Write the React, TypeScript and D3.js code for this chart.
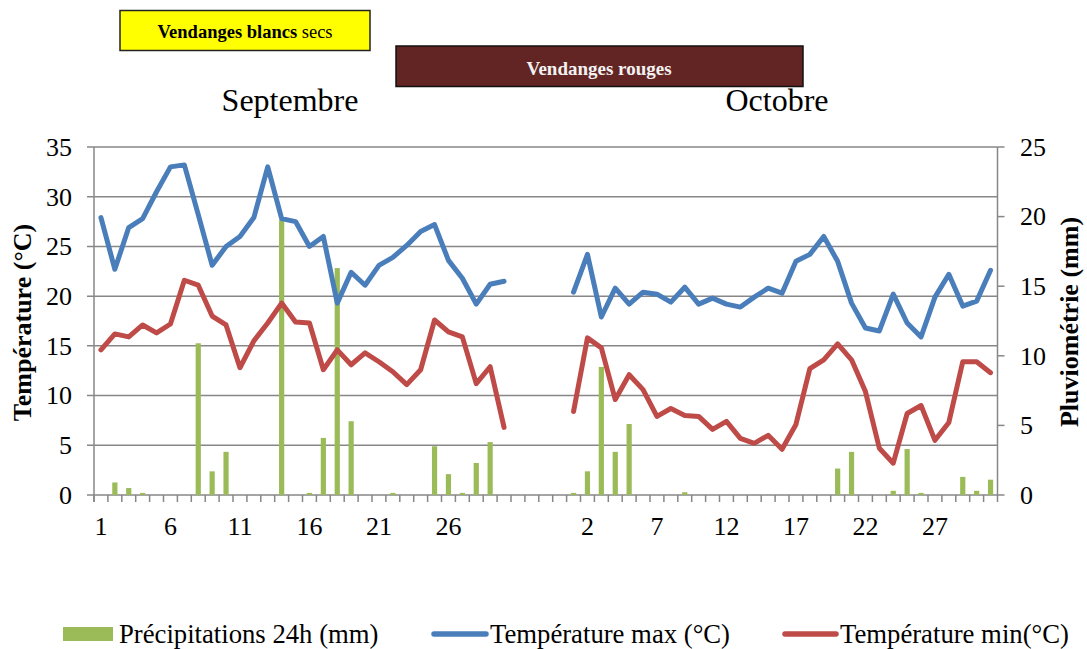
import React from "react";
import * as d3 from "d3";

// Categories: September 1..30, 4 empty slots, October 1..31
const septDays: string[] = d3.range(1, 31).map(String);
const gapSlots: string[] = ["", "", "", ""];
const octDays: string[] = d3.range(1, 32).map(String);

const septTmax: number[] = [27.9, 22.7, 26.9, 27.8, 30.5, 33.0, 33.2, 28.2, 23.1, 25.0, 26.0, 27.9, 33.0, 27.8, 27.5, 25.0, 26.0, 19.3, 22.4, 21.1, 23.1, 23.9, 25.1, 26.5, 27.2, 23.6, 21.8, 19.2, 21.2, 21.5];
const septTmin: number[] = [14.6, 16.2, 15.9, 17.1, 16.3, 17.2, 21.6, 21.1, 18.0, 17.1, 12.8, 15.5, 17.3, 19.3, 17.4, 17.3, 12.6, 14.6, 13.1, 14.3, 13.4, 12.4, 11.1, 12.6, 17.6, 16.4, 15.9, 11.2, 12.9, 6.8];
const septRain: number[] = [0, 0.9, 0.5, 0.15, 0, 0, 0, 10.9, 1.7, 3.1, 0, 0, 0, 19.75, 0, 0.15, 4.1, 16.3, 5.3, 0, 0, 0.15, 0, 0, 3.5, 1.5, 0.15, 2.3, 3.8, 0];

const octTmax: number[] = [20.4, 24.2, 17.9, 20.8, 19.2, 20.4, 20.2, 19.4, 20.9, 19.2, 19.8, 19.2, 18.9, 19.9, 20.8, 20.3, 23.5, 24.2, 26.0, 23.5, 19.3, 16.8, 16.5, 20.2, 17.3, 15.9, 19.9, 22.2, 19.0, 19.5, 22.6];
const octTmin: number[] = [8.4, 15.8, 14.8, 9.6, 12.1, 10.6, 7.9, 8.7, 8.0, 7.9, 6.6, 7.4, 5.7, 5.2, 6.0, 4.6, 7.1, 12.7, 13.6, 15.2, 13.6, 10.4, 4.7, 3.2, 8.2, 9.0, 5.5, 7.3, 13.4, 13.4, 12.3];
const octRain: number[] = [0.15, 1.7, 9.2, 3.1, 5.1, 0, 0, 0, 0.2, 0, 0, 0, 0, 0, 0, 0, 0, 0, 0, 1.9, 3.1, 0, 0, 0.3, 3.3, 0.15, 0, 0, 1.3, 0.3, 1.1];

const tempTicks: number[] = [0, 5, 10, 15, 20, 25, 30, 35];
const rainTicks: number[] = [0, 5, 10, 15, 20, 25];

const gapNull: (number | null)[] = gapSlots.map(() => null);
const labels: string[] = [...septDays, ...gapSlots, ...octDays];
const tmax: (number | null)[] = [...septTmax, ...gapNull, ...octTmax];
const tmin: (number | null)[] = [...septTmin, ...gapNull, ...octTmin];
const rain: (number | null)[] = [...septRain, ...gapNull, ...octRain];

const FONT = "'Liberation Serif', 'Times New Roman', serif";
const GRID = "#878787";
const BLUE = "#4A7EBB";
const RED = "#BE4B48";
const GREEN = "#9BBB59";

export default function App() {
  const W = 1087, H = 649;
  const left = 94, right = 997.5, top = 147, bottom = 495;
  const idx = d3.range(labels.length);
  const x = d3.scaleBand<number>().domain(idx).range([left, right]).padding(0);
  const bw = x.bandwidth();
  const cx = (i: number) => (x(i) as number) + bw / 2;
  const yT = d3.scaleLinear().domain([0, 35]).range([bottom, top]);
  const yR = d3.scaleLinear().domain([0, 25]).range([bottom, top]);

  const line = d3
    .line<number | null>()
    .defined((d) => d !== null)
    .x((_, i) => cx(i))
    .y((d) => yT(d as number));

  const barW = 5.2;

  return (
    <svg
      width={W}
      height={H}
      style={{ position: "absolute", left: 0, top: 0, background: "#fff" }}
      fontFamily={FONT}
    >
      {/* Harvest boxes */}
      <rect x={120} y={10.5} width={250} height={40} fill="#FFFF00" stroke="#222" strokeWidth={1.5} />
      <text x={245} y={37.5} textAnchor="middle" fontSize={18.5} fill="#000">
        <tspan fontWeight="bold">Vendanges blancs</tspan>
        <tspan> secs</tspan>
      </text>
      <rect x={396} y={46} width={407} height={40.5} fill="#632523" stroke="#111" strokeWidth={1.5} />
      <text x={599} y={75} textAnchor="middle" fontSize={19} fontWeight="bold" fill="#F2F2F2">
        Vendanges rouges
      </text>

      {/* Month titles */}
      <text x={290} y={110.5} textAnchor="middle" fontSize={32} fill="#000">Septembre</text>
      <text x={777} y={110.5} textAnchor="middle" fontSize={32} fill="#000">Octobre</text>

      {/* Gridlines */}
      {tempTicks.map((t) => (
        <line key={"g" + t} x1={left - 7} x2={right} y1={yT(t)} y2={yT(t)} stroke={GRID} strokeWidth={1.5} />
      ))}
      {/* Axes lines */}
      <line x1={left} x2={left} y1={top} y2={bottom + 7} stroke={GRID} strokeWidth={1.5} />
      <line x1={right} x2={right} y1={top} y2={bottom + 7} stroke={GRID} strokeWidth={1.5} />
      {rainTicks.map((t) => (
        <line key={"rt" + t} x1={right} x2={right + 7} y1={yR(t)} y2={yR(t)} stroke={GRID} strokeWidth={1.5} />
      ))}
      {/* x ticks at category boundaries */}
      {idx.map((i) => (
        <line key={"xt" + i} x1={x(i) as number} x2={x(i) as number} y1={bottom} y2={bottom + 7} stroke={GRID} strokeWidth={1.5} />
      ))}

      {/* Bars */}
      {rain.map((v, i) =>
        v && v > 0 ? (
          <rect key={"b" + i} x={cx(i) - barW / 2} y={yR(v)} width={barW} height={yR(0) - yR(v)} fill={GREEN} />
        ) : null
      )}

      {/* Lines */}
      <path d={line(tmax) || ""} fill="none" stroke={BLUE} strokeWidth={5} strokeLinejoin="round" strokeLinecap="round" />
      <path d={line(tmin) || ""} fill="none" stroke={RED} strokeWidth={5} strokeLinejoin="round" strokeLinecap="round" />

      {/* Left tick labels */}
      {tempTicks.map((t) => (
        <text key={"lt" + t} x={72} y={yT(t)} dy="0.34em" textAnchor="end" fontSize={26} fill="#000">
          {t}
        </text>
      ))}
      {/* Right tick labels */}
      {rainTicks.map((t) => (
        <text key={"rl" + t} x={1020} y={yR(t)} dy="0.34em" textAnchor="start" fontSize={26} fill="#000">
          {t}
        </text>
      ))}
      {/* X labels every 5 categories */}
      {idx
        .filter((i) => i % 5 === 0 && labels[i] !== "")
        .map((i) => (
          <text key={"xl" + i} x={cx(i)} y={535} textAnchor="middle" fontSize={26} fill="#000">
            {labels[i]}
          </text>
        ))}

      {/* Axis titles */}
      <text transform="translate(31,322.5) rotate(-90)" textAnchor="middle" fontSize={26} fontWeight="bold" fill="#000">
        Température (°C)
      </text>
      <text transform="translate(1078,322) rotate(-90)" textAnchor="middle" fontSize={26} fontWeight="bold" fill="#000">
        Pluviométrie (mm)
      </text>

      {/* Legend */}
      <rect x={63} y={627} width={50} height={14} fill={GREEN} />
      <text x={119} y={643} fontSize={26.7} fill="#000">Précipitations 24h (mm)</text>
      <line x1={434} x2={486} y1={634} y2={634} stroke={BLUE} strokeWidth={5.5} strokeLinecap="round" />
      <text x={490} y={643} fontSize={26.7} fill="#000">Température max (°C)</text>
      <line x1={785} x2={836} y1={634} y2={634} stroke={RED} strokeWidth={5.5} strokeLinecap="round" />
      <text x={840} y={643} fontSize={26.7} fill="#000">Température min(°C)</text>
    </svg>
  );
}
